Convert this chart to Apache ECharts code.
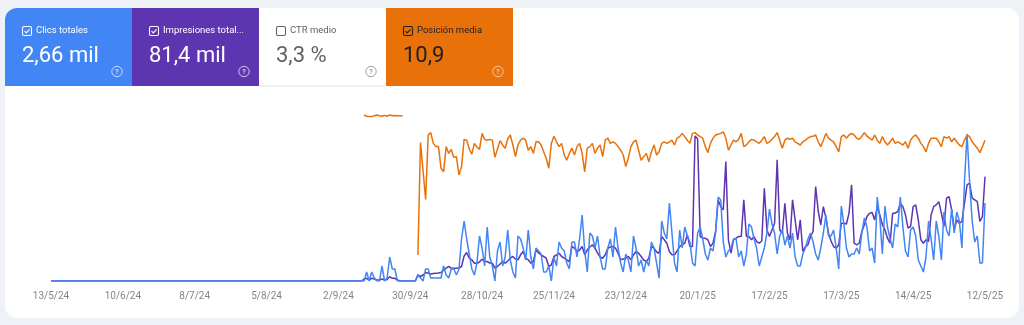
<!DOCTYPE html>
<html><head><meta charset="utf-8">
<style>html,body{margin:0;padding:0;background:#eef1f6;}#c{width:1024px;height:325px;}</style>
<script src="https://cdn.jsdelivr.net/npm/echarts@6/dist/echarts.min.js"></script>
</head><body><div id="c"></div>
<script>
// ---- data ----
const startYear = 2024, startMonth = 4, startDay = 13; // 13/5/24
const dayCount = 365;
const firstActiveDay = 122; // first day with data (index)

const clicksActive = [
 0,3,0,3,1,0,0,5,0,1,8,4,4,0,0,0,0,0,0,0,0,
 2,1,0,4,4,1,1,1,1,1,5,2,1,4,4,2,4,14,20,14,9,4,2,6,15,11,5,18,8,5,0,10,13,5,8,17,
 7,3,1,15,14,11,7,17,8,4,11,10,9,3,3,5,0,8,5,13,11,10,6,4,13,13,8,14,22,10,
 3,16,15,11,15,8,4,4,11,14,8,18,11,6,3,9,7,3,15,11,5,7,3,7,5,13,11,6,1,20,16,14,26,16,
 6,3,17,11,18,15,13,6,5,16,18,14,9,7,11,10,16,
 28,
 27,13,8,10,11,14,14,8,10,5,9,19,18,14,11,5,8,11,16,
 24,
 19,16,9,15,17,12,15,11,16,8,5,5,9,11,14,16,13,9,7,11,16,
 22,15,15,17,11,4,25,19,11,8,9,9,11,9,16,21,18,10,11,6,28,21,9,25,18,14,11,19,18,
 28,18,10,8,17,18,15,7,5,3,8,20,14,7,20,15,7,23,17,15,24,16,23,20,11,33,49,33,20,13,15,6,6,26
];

const impressionsActive = [
 20,27,10,27,20,10,10,20,10,15,43,27,27,10,0,0,0,0,0,0,0,
 62,45,60,85,78,70,75,78,80,85,110,128,145,128,128,128,130,145,250,285,
 228,212,178,178,190,218,195,195,180,178,128,145,170,195,178,200,
 228,245,220,212,262,295,228,212,178,195,312,280,262,245,228,145,162,245,260,278,
 245,228,210,195,345,328,295,310,345,262,312,340,362,328,278,240,228,262,328,340,
 345,328,278,212,220,228,245,212,260,295,278,245,210,195,228,345,328,290,278,445,412,378,
 295,262,262,300,345,362,378,462,345,345,1450,1420,445,430,428,412,345,378,495,811,
 744,711,1194,412,278,412,428,445,445,811,445,445,412,445,395,378,400,927,512,445,
 512,578,1211,512,478,778,478,412,811,611,412,611,295,345,362,445,495,944,700,560,744,
 628,478,400,345,328,362,578,578,570,678,961,378,362,378,495,562,645,678,685,611,744,662,562,512,428,
 378,678,678,695,778,744,662,528,545,744,761,611,412,378,412,395,662,744,761,794,
 678,545,828,844,711,512,611,578,595,778,961,978,828,811,794,595,645,1044
];

const positionActive = [
 3.5,3.8,3.9,3.9,3.7,3.5,3.7,3.8,3.6,3.8,3.5,3.7,3.6,3.7,3.7,3.7,
 null,null,null,null,null,
 38.5,10.4,17.5,24.6,8.5,7.9,10.6,11.4,11.4,16.8,17.7,11.4,13.1,12.1,14.1,13.9,18.5,16.4,9.6,9.8,
 12,13.3,10.6,11.5,12.1,8.1,9.6,9.8,9.6,9.8,14.1,12,9.9,11,11.8,9.5,
 8.5,11,13.9,11,9.8,9.3,9.8,12.3,11.4,13.1,10.2,10.2,11,12.7,14.3,16.8,10.6,8.8,10.2,11.4,
 10.6,13.5,14.8,13.1,11.8,13.5,11.4,10.6,13.1,17.7,11.8,11.4,10.6,13.1,11.8,11,13.9,9.8,9.3,10.6,
 10.2,10.6,11.4,12.3,13.5,16.4,14.3,11.4,10.2,9.8,12.3,14.8,13.9,13.1,15.2,12.7,11,13.5,12.7,10.6,
 10.2,10.6,
 10.2,9.8,11,9.3,8.9,8.1,8.9,9.8,10.6,8.1,7.9,8.5,8.9,9.3,11.4,12.9,10.6,9.3,8.5,8.3,
 8.1,7.7,9.3,12.3,11,9.8,10.2,9.6,8.1,11.4,11,10.2,9.6,9.8,10.2,10.6,9.8,8.9,10.6,10.2,
 9.6,8.9,7.9,9.8,11.8,9.8,9.3,9.6,9.3,10.2,10.6,11,10.2,9.8,9.3,8.9,8.8,8.5,10.2,11.4,9.8,
 8.1,9.3,9.8,10.2,11.4,12.7,8.9,8.5,9.3,8.5,8.1,8.5,9.3,9.6,8.8,7.9,8.8,9.3,9.8,8.5,
 9.8,10.6,8.9,10.2,11,10.2,9.3,10.6,10.2,10.6,11,10.2,11.8,9.8,8.9,8.5,9.3,10.6,11.4,12.7,
 10.6,9.3,9.3,9.3,10.2,11.4,8.9,9.3,8.9,10.2,9.3,10.2,11,11.4,9.8,8.5,8.9,10.2,11,11.8,
 12.9,11.4,9.8
];

const tileLabels = ['Clics totales', 'Impresiones total...', 'CTR medio', 'Posición media'];
const tileValues = ['2,66 mil', '81,4 mil', '3,3 %', '10,9'];
const tileChecked = [true, true, false, true];

// ---- build ----
const categories = [];
for (let i = 0; i < dayCount; i++) {
  const d = new Date(Date.UTC(startYear, startMonth, startDay + i));
  categories.push(d.getUTCDate() + '/' + (d.getUTCMonth() + 1) + '/' + String(d.getUTCFullYear()).slice(2));
}
const clicks = new Array(firstActiveDay).fill(0).concat(clicksActive);
const impressions = new Array(firstActiveDay).fill(0).concat(impressionsActive);
const position = new Array(firstActiveDay).fill(null).concat(positionActive);

const tileFill = ['#4285f4', '#5e35b1', null, '#e8710a'];
const tileText = ['#ffffff', '#ffffff', '#5f6368', '#202124'];
const tileHelp = ['rgba(255,255,255,0.7)', 'rgba(255,255,255,0.7)', '#9aa0a6', 'rgba(255,255,255,0.6)'];
const tileX = [5, 132, 259, 386];
const tileW = 127;

const graphics = [];
graphics.push({ type: 'rect', z: 0, shape: { x: 5, y: 8, width: 1014, height: 310, r: 12 }, style: { fill: '#ffffff' }, silent: true });
for (let k = 0; k < 4; k++) {
  const x0 = tileX[k];
  if (tileFill[k]) {
    graphics.push({ type: 'rect', z: 1, shape: { x: x0, y: 8, width: tileW, height: 78, r: k === 0 ? [12, 0, 0, 0] : 0 }, style: { fill: tileFill[k] }, silent: true });
  } else {
    graphics.push({ type: 'rect', z: 1, shape: { x: x0, y: 85.5, width: tileW, height: 1 }, style: { fill: '#e3e5e8' }, silent: true });
  }
  const bx = x0 + 17.5, by = 26.5;
  graphics.push({ type: 'rect', z: 2, shape: { x: bx, y: by, width: 9, height: 9, r: 1.5 }, style: { fill: 'none', stroke: tileText[k], lineWidth: 1.1 }, silent: true });
  if (tileChecked[k]) {
    graphics.push({ type: 'polyline', z: 2, shape: { points: [[bx + 2, by + 4.6], [bx + 3.8, by + 6.4], [bx + 7.1, by + 2.8]] }, style: { fill: 'none', stroke: tileText[k], lineWidth: 1.1 }, silent: true });
  }
  graphics.push({ type: 'text', z: 2, x: x0 + 31, y: 31, style: { text: tileLabels[k], fill: tileText[k], font: '9.5px Roboto', textAlign: 'left', textVerticalAlign: 'middle', align: 'left', verticalAlign: 'middle' }, silent: true });
  graphics.push({ type: 'text', z: 2, x: x0 + 17, y: 56, style: { text: tileValues[k], fill: tileText[k], font: '22px Roboto', textAlign: 'left', textVerticalAlign: 'middle', align: 'left', verticalAlign: 'middle' }, silent: true });
  const hx = x0 + 112, hy = 71.5;
  graphics.push({ type: 'circle', z: 2, shape: { cx: hx, cy: hy, r: 5.2 }, style: { fill: 'none', stroke: tileHelp[k], lineWidth: 1 }, silent: true });
  graphics.push({ type: 'text', z: 2, x: hx, y: hy + 0.3, style: { text: '?', fill: tileHelp[k], font: 'bold 7px Roboto', textAlign: 'center', textVerticalAlign: 'middle', align: 'center', verticalAlign: 'middle' }, silent: true });
}

const chart = echarts.init(document.getElementById('c'), null, { renderer: 'canvas' });
chart.setOption({
  animation: false,
  backgroundColor: '#eef1f6',
  graphic: { elements: graphics },
  grid: { left: 51, right: 39, top: 101, bottom: 44, containLabel: false },
  xAxis: {
    type: 'category', data: categories, boundaryGap: false,
    axisLine: { show: false }, axisTick: { show: false }, splitLine: { show: false },
    axisLabel: { interval: 27, color: '#80868b', fontSize: 10, fontFamily: 'Roboto', margin: 10, showMinLabel: true, showMaxLabel: true }
  },
  yAxis: [
    { type: 'value', min: 0, max: 60, show: false },
    { type: 'value', min: 0, max: 1800, show: false },
    { type: 'value', min: 0, max: 45, inverse: true, show: false }
  ],
  series: [
    { name: 'Impresiones', type: 'line', yAxisIndex: 1, data: impressions, showSymbol: false, symbol: 'none', z: 3, lineStyle: { width: 1.5, color: '#5e35b1' }, itemStyle: { color: '#5e35b1' } },
    { name: 'Clics', type: 'line', yAxisIndex: 0, data: clicks, showSymbol: false, symbol: 'none', z: 4, lineStyle: { width: 1.5, color: '#4285f4' }, itemStyle: { color: '#4285f4' } },
    { name: 'Posición', type: 'line', yAxisIndex: 2, data: position, showSymbol: false, symbol: 'none', z: 5, connectNulls: false, lineStyle: { width: 1.5, color: '#e8710a' }, itemStyle: { color: '#e8710a' } }
  ]
});
</script>
</body></html>
